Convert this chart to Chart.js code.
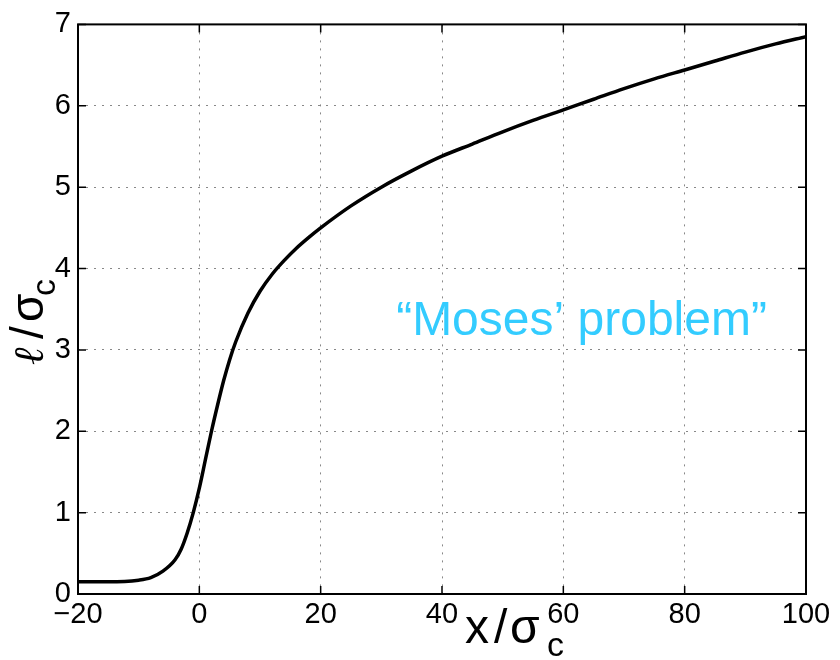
<!DOCTYPE html>
<html>
<head>
<meta charset="utf-8">
<script src="https://cdn.jsdelivr.net/npm/chart.js@4"></script>
<style>
  html, body { margin: 0; padding: 0; background: #fff; }
  #wrap { width: 840px; height: 660px; }
</style>
</head>
<body>
<div id="wrap"><canvas id="chart"></canvas></div>
<script>
// curve
var xVals = [-20, -15, -10, -8, -6, -4, -3, -2, -1, 0, 1, 2, 3, 4, 5, 6, 8, 10, 12, 14, 16, 18, 20,
             25, 30, 35, 40, 45, 50, 55, 60, 65, 70, 75, 80, 85, 90, 95, 100];
var yVals = [0.15, 0.15, 0.17, 0.2, 0.28, 0.42, 0.55, 0.75, 1.0, 1.3, 1.65, 2.0, 2.32, 2.62, 2.88, 3.1, 3.45, 3.72, 3.93, 4.1, 4.25, 4.38, 4.5,
             4.77, 5.0, 5.2, 5.38, 5.53, 5.68, 5.82, 5.95, 6.08, 6.21, 6.33, 6.44, 6.55, 6.66, 6.76, 6.85];
var xTicks = [-20, 0, 20, 40, 60, 80, 100];
var yTicks = [0, 1, 2, 3, 4, 5, 6, 7];
var note = "\u201CMoses\u2019 problem\u201D";
var notePos = { x: 63, y: 3.34 };

var points = xVals.map(function (x, i) { return { x: x, y: yVals[i] }; });

var sans = '"Liberation Sans", Arial, sans-serif';

// frame, inward ticks, axis titles and the note
var extras = {
    id: 'extras',
    afterDraw: function (chart) {
        var ctx = chart.ctx;
        var a = chart.chartArea;
        var sx = chart.scales.x, sy = chart.scales.y;
        ctx.save();
        ctx.strokeStyle = '#000';
        ctx.lineWidth = 2;
        ctx.strokeRect(a.left, a.top, a.right - a.left, a.bottom - a.top);
        ctx.lineWidth = 1.5;
        ctx.beginPath();
        xTicks.forEach(function (v) {
            var p = sx.getPixelForValue(v);
            ctx.moveTo(p, a.bottom); ctx.lineTo(p, a.bottom - 8);
            ctx.moveTo(p, a.top); ctx.lineTo(p, a.top + 8);
        });
        yTicks.forEach(function (v) {
            var p = sy.getPixelForValue(v);
            ctx.moveTo(a.left, p); ctx.lineTo(a.left + 8, p);
            ctx.moveTo(a.right, p); ctx.lineTo(a.right - 8, p);
        });
        ctx.stroke();

        // x axis title: x/σ_c
        ctx.fillStyle = '#000';
        ctx.textBaseline = 'alphabetic';
        ctx.textAlign = 'left';
        ctx.font = '48px ' + sans;
        ctx.fillText('x', 465, 643);
        ctx.fillText('/', 494, 643);
        ctx.fillText('\u03C3', 510, 643);
        ctx.font = '34px ' + sans;
        ctx.fillText('c', 547, 656);

        // y axis title: ℓ/σ_c (rotated)
        ctx.translate(43, 365);
        ctx.rotate(-Math.PI / 2);
        ctx.font = 'italic 42px "DejaVu Serif", serif';
        ctx.fillText('\u2113', 0, 0);
        ctx.font = '46px ' + sans;
        ctx.fillText('/', 26, 0);
        ctx.fillText('\u03C3', 43, 0);
        ctx.font = '34px ' + sans;
        ctx.fillText('c', 69, 12);
        ctx.setTransform(1, 0, 0, 1, 0, 0);

        // cyan note
        ctx.fillStyle = '#33ccff';
        ctx.font = '48px ' + sans;
        ctx.textAlign = 'center';
        ctx.textBaseline = 'middle';
        ctx.fillText(note, sx.getPixelForValue(notePos.x), sy.getPixelForValue(notePos.y));
        ctx.restore();
    }
};

var tickFont = { family: sans, size: 29 };

new Chart(document.getElementById('chart'), {
    type: 'scatter',
    data: {
        datasets: [{
            data: points,
            showLine: true,
            borderColor: '#000',
            borderWidth: 3.5,
            pointRadius: 0,
            cubicInterpolationMode: 'monotone',
            fill: false
        }]
    },
    options: {
        responsive: true,
        maintainAspectRatio: false,
        animation: false,
        events: [],
        layout: { padding: { top: 20, right: 34, left: 0, bottom: 0 } },
        plugins: { legend: { display: false }, tooltip: { enabled: false } },
        scales: {
            x: {
                type: 'linear', min: -20, max: 100,
                afterBuildTicks: function (s) { s.ticks = xTicks.map(function (v) { return { value: v }; }); },
                afterFit: function (s) { s.height = 66; },
                ticks: {
                    color: '#000', font: tickFont, padding: 4,
                    callback: function (v) { return v < 0 ? '\u2212' + Math.abs(v) : v; }
                },
                grid: { color: '#888', lineWidth: 1, drawTicks: false },
                border: { display: false, dash: [2, 6] }
            },
            y: {
                type: 'linear', min: 0, max: 7,
                afterBuildTicks: function (s) { s.ticks = yTicks.map(function (v) { return { value: v }; }); },
                afterFit: function (s) { s.width = 78; },
                ticks: { color: '#000', font: tickFont, padding: 7 },
                grid: { color: '#888', lineWidth: 1, drawTicks: false },
                border: { display: false, dash: [2, 6] }
            }
        }
    },
    plugins: [extras]
});
</script>
</body>
</html>
